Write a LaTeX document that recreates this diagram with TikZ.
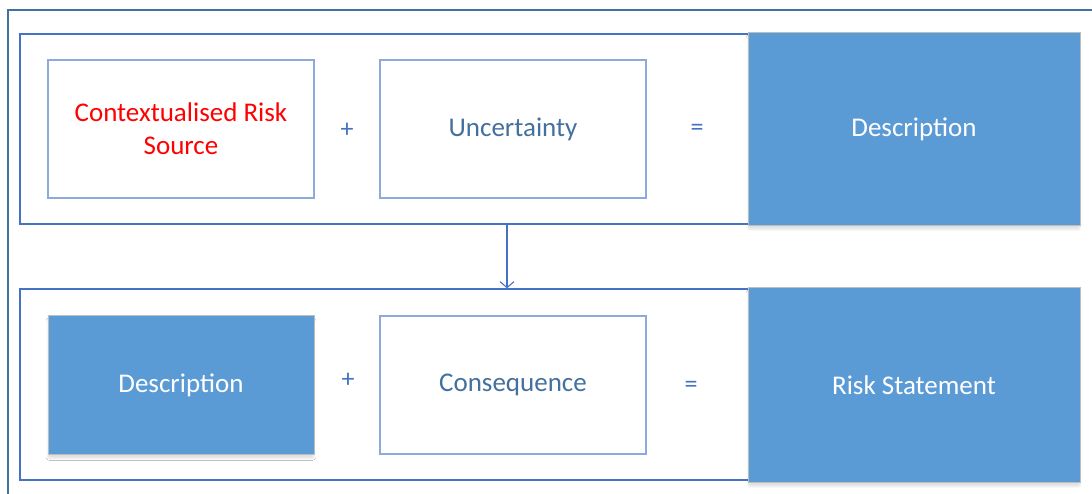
\documentclass[tikz,border=0pt]{standalone}
\usepackage{fontspec}
\setmainfont{Carlito}
\usetikzlibrary{arrows.meta,shadows.blur}
\definecolor{framecol}{HTML}{4472C4}
\definecolor{outercol}{HTML}{41719C}
\definecolor{boxline}{HTML}{8EA9DB}
\definecolor{fillblue}{HTML}{5B9BD5}
\definecolor{fillline}{HTML}{BDBDBD}
\definecolor{labelcol}{HTML}{44709E}
\definecolor{riskred}{HTML}{FF0000}
\tikzset{
  frame/.style={draw=framecol, line width=1.3pt, fill=white, inner sep=0pt},
  plainbox/.style={draw=boxline, line width=1.1pt, fill=white, inner sep=0pt,
    minimum width=266pt, minimum height=138pt, text=labelcol, align=center,
    font=\fontsize{27}{33}\selectfont},
  bluebox/.style={draw=fillline, line width=1pt, fill=fillblue, inner sep=0pt,
    text=white, align=center, font=\fontsize{27}{33}\selectfont,
    blur shadow={shadow xshift=0pt, shadow yshift=-4pt, shadow blur steps=8,
      shadow blur extra rounding=2pt, shadow opacity=12}},
  opsign/.style={text=framecol, font=\fontsize{26}{30}\selectfont, inner sep=0pt},
}
\begin{document}
\begin{tikzpicture}[x=1pt,y=-1pt]
  \useasboundingbox (0,0) rectangle (1092,494);
  % outer page frame, running off the right and bottom edges
  \draw[outercol, line width=1.5pt] (8,494) -- (8,10) -- (1092,10);

  % the two stage frames
  \node[frame, minimum width=974pt, minimum height=190pt] (topframe) at (507,129) {};
  \node[frame, minimum width=974pt, minimum height=191pt] (lowframe) at (507,384.5) {};

  % first stage: source + uncertainty = description
  \node[plainbox, text=riskred] (source) at (181,129) {Contextualised Risk\\Source};
  \node[plainbox] (uncert) at (513,129) {Uncertainty};
  \node[bluebox, minimum width=332pt, minimum height=193pt] (desc) at (914,129) {Description};
  \node[opsign] (plus1) at (347,130) {+};
  \node[opsign] (eq1) at (697,130) {=};

  % second stage: description + consequence = risk statement
  \node[bluebox, minimum width=266pt, minimum height=139pt] (desc2) at (181,385) {Description};
  \node[plainbox] (conseq) at (513,385) {Consequence};
  \node[bluebox, minimum width=332pt, minimum height=195pt] (stmt) at (914,385) {Risk Statement};
  \node[opsign] (plus2) at (348,380) {+};
  \node[opsign] (eq2) at (691,387) {=};

  % flow from the first stage to the second
  \draw[framecol, line width=1.1pt, -{Straight Barb[length=6pt, width=14pt]}]
    (topframe.south) -- (lowframe.north);
\end{tikzpicture}
\end{document}
